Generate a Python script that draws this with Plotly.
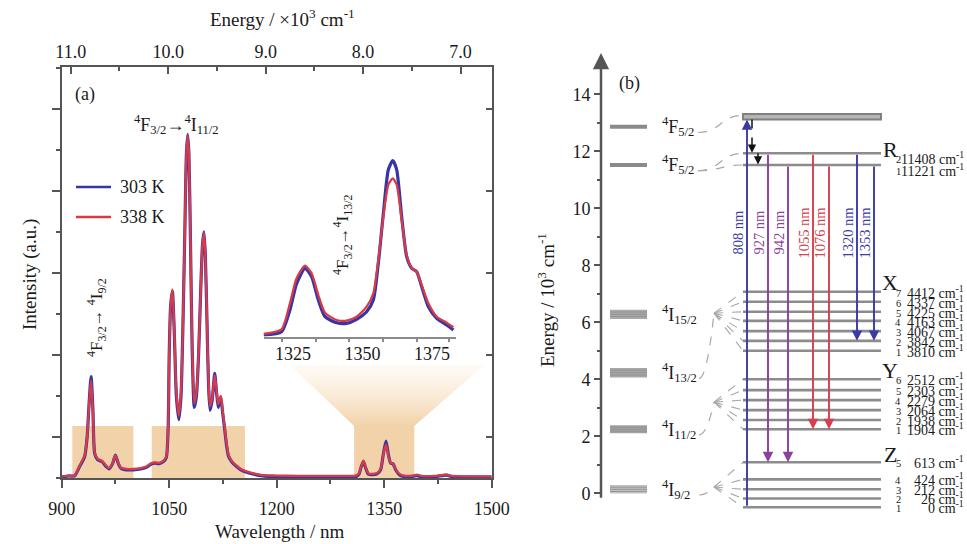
import plotly.graph_objects as go

W, H = 967, 544
FONT = "Liberation Serif"
TXT = "#1a1a1a"
AX = "#555555"

# ---------------- panel (a): emission spectrum ----------------
wavelength_nm = [900, 910, 918, 925, 932, 935.5, 938.5, 941, 943.5, 946,
                 950, 956, 962, 966, 971, 975, 979, 983, 990, 1000,
                 1010, 1018, 1025, 1030, 1036, 1042, 1046, 1048.5, 1050, 1052,
                 1054.5, 1057, 1060, 1063.5, 1066.5, 1069.5, 1072, 1074, 1075.8, 1077.5,
                 1079.5, 1082, 1085, 1088, 1091, 1094, 1096.5, 1098.5, 1100.5, 1103,
                 1105, 1107, 1110, 1113.5, 1116, 1118.5, 1122, 1124.5, 1127, 1130,
                 1133, 1138, 1144, 1150, 1158, 1168, 1180, 1200, 1230, 1260,
                 1290, 1310, 1315, 1318, 1321, 1324, 1328, 1333, 1340, 1345,
                 1348.5, 1352.5, 1356, 1359, 1362.5, 1366, 1371, 1377, 1390, 1396,
                 1402, 1420, 1437, 1445, 1470, 1500]
intensity_303K = [0.02, 0.05, 0.05, 0.28, 0.52, 1.0, 1.9, 2.47, 1.7, 0.6,
                  0.45, 0.40, 0.28, 0.22, 0.35, 0.56, 0.35, 0.23, 0.20, 0.20,
                  0.22, 0.26, 0.34, 0.36, 0.35, 0.40, 0.50, 1.2, 3.0, 4.2,
                  4.55, 3.6, 2.0, 1.42, 2.0, 4.0, 6.2, 7.9, 8.37, 7.9,
                  6.0, 3.2, 1.72, 2.0, 3.0, 4.6, 5.7, 6.0, 5.4, 3.6,
                  2.2, 1.65, 1.9, 2.55, 2.1, 1.72, 1.98, 1.6, 1.25, 0.8,
                  0.52, 0.38, 0.28, 0.20, 0.14, 0.09, 0.05, 0.03, 0.03, 0.02,
                  0.02, 0.03, 0.10, 0.28, 0.40, 0.25, 0.09, 0.08, 0.10, 0.20,
                  0.55, 0.90, 0.55, 0.36, 0.34, 0.20, 0.08, 0.04, 0.04, 0.06,
                  0.03, 0.03, 0.07, 0.03, 0.02, 0.02]
intensity_338K = [0.04, 0.05, 0.06, 0.30, 0.55, 1.0, 1.85, 2.38, 1.65, 0.62,
                  0.47, 0.42, 0.30, 0.24, 0.36, 0.55, 0.36, 0.25, 0.22, 0.22,
                  0.24, 0.28, 0.36, 0.38, 0.37, 0.42, 0.52, 1.2, 3.0, 4.2,
                  4.6, 3.65, 2.1, 1.52, 2.1, 4.0, 6.2, 7.9, 8.35, 7.9,
                  6.0, 3.3, 1.82, 2.1, 3.05, 4.6, 5.7, 5.98, 5.4, 3.65,
                  2.3, 1.75, 1.95, 2.5, 2.15, 1.8, 2.0, 1.65, 1.3, 0.85,
                  0.55, 0.40, 0.30, 0.22, 0.16, 0.11, 0.07, 0.06, 0.05, 0.05,
                  0.05, 0.06, 0.12, 0.28, 0.42, 0.27, 0.11, 0.10, 0.12, 0.22,
                  0.55, 0.82, 0.52, 0.37, 0.35, 0.22, 0.10, 0.06, 0.06, 0.08,
                  0.05, 0.05, 0.08, 0.05, 0.04, 0.04]
series_names = ["303 K", "338 K"]

inset_wavelength_nm = [1314.3, 1320.9, 1323.9, 1326.3, 1329.3, 1331.7, 1334.1, 1336.5, 1340.7,
                       1344.3, 1347.9, 1351.5, 1353.9, 1355.7, 1357.5, 1359.3, 1360.9, 1362.3,
                       1364.1, 1365.9, 1367.7, 1369.5, 1371.3, 1373.7, 1376.7, 1380.3, 1382.7]
inset_303K = [0.17, 0.5, 2.67, 5.3, 6.84, 6.0, 3.67, 2.0, 1.4,
              1.34, 1.74, 2.5, 3.67, 7.34, 12.3, 16.7, 17.6, 16.7,
              12.0, 8.0, 6.84, 6.5, 5.0, 3.0, 1.84, 1.17, 0.67]
inset_338K = [0.27, 0.74, 3.34, 5.84, 7.1, 6.34, 4.17, 2.4, 1.67,
              1.6, 2.0, 3.0, 4.34, 7.67, 12.0, 15.2, 15.84, 15.2,
              11.67, 8.17, 6.9, 6.5, 5.17, 3.34, 2.0, 1.4, 0.94]

bottom_ticks = [900, 1050, 1200, 1350, 1500]
top_ticks = [11.0, 10.0, 9.0, 8.0, 7.0]
inset_ticks = [1325, 1350, 1375]
inset_minor_ticks = [1321.0, 1333.3, 1345.2, 1357.4, 1369.6, 1381.1]

band_starts_nm = [914.8, 1025.6, 1308]
band_ends_nm = [1000, 1155.7, 1392]
band_height = 1.27
funnel_top_nm = [1218, 1490]
funnel_top_height = 2.76

# ---------------- panel (b): energy levels (10^3 cm^-1 axis positions) ----------------
term_labels = ["<sup>4</sup>F<sub>5/2</sub>", "<sup>4</sup>F<sub>5/2</sub>",
               "<sup>4</sup>I<sub>15/2</sub>", "<sup>4</sup>I<sub>13/2</sub>",
               "<sup>4</sup>I<sub>11/2</sub>", "<sup>4</sup>I<sub>9/2</sub>"]
term_E = [12.86, 11.52, 6.28, 4.23, 2.25, 0.14]
pump_band_E = [13.12, 13.31]
R_E = [11.52, 11.93]
R_cm = [11221, 11408]
X_E = [5.00, 5.35, 5.69, 6.05, 6.37, 6.72, 7.07]
X_cm = [3810, 3842, 4067, 4163, 4225, 4337, 4412]
Y_E = [2.25, 2.57, 2.92, 3.27, 3.62, 4.00]
Y_cm = [1904, 1938, 2064, 2279, 2303, 2512]
Z_E = [-0.49, -0.18, 0.14, 0.49, 1.09]
Z_cm = [0, 26, 212, 424, 613]
energy_ticks = [0, 2, 4, 6, 8, 10, 12, 14]

trans_nm = [808, 927, 942, 1055, 1076, 1320, 1353]
trans_from = ["Z1", "R2", "R1", "R2", "R1", "R2", "R1"]
trans_to = ["P", "Z5", "Z5", "Y1", "Y1", "X2", "X2"]

# ---------------- layout / style (pixels) ----------------
trans_x = [747, 768, 788, 813, 829, 857, 874]
trans_colors = ["#3a3aa6", "#8b3f9e", "#8b3f9e", "#d6404c", "#d6404c", "#3a3aa6", "#3a3aa6"]
bar_half = [0, 0, 0.16, 0.17, 0.14, 0.15]
bar_fill = ["#8a8a8a", "#8a8a8a", "#aaaaaa", "#a6a6a6", "#a2a2a2", "#c2c2c2"]
LV0, LV1 = 743, 881
BAR0, BAR1 = 610, 647
AXB = 601


def px(x):
    return x / W


def py(y):
    return 1 - y / H


fig = go.Figure()

# funnel (zoom indicator) with vertical gradient
fig.add_trace(go.Scatter(
    x=[band_starts_nm[2], band_ends_nm[2], funnel_top_nm[1], funnel_top_nm[0], band_starts_nm[2]],
    y=[band_height, band_height, funnel_top_height, funnel_top_height, band_height],
    fill="toself", mode="none", hoverinfo="skip", showlegend=False,
    fillgradient=dict(type="vertical",
                      colorscale=[[0, "rgba(242,210,169,1)"], [1, "rgba(250,232,208,0.2)"]]),
    xaxis="x", yaxis="y"))

# invisible helpers so the mirrored top / right axes are drawn
fig.add_trace(go.Scatter(x=[9.0], y=[0], mode="markers", marker=dict(opacity=0), hoverinfo="skip",
                         showlegend=False, xaxis="x2", yaxis="y"))
fig.add_trace(go.Scatter(x=[1200], y=[0], mode="markers", marker=dict(opacity=0), hoverinfo="skip",
                         showlegend=False, xaxis="x", yaxis="y2"))

colors = ["#3535a8", "#d83a48"]
widths = [3.2, 2.3]
for vals, c, w, n in zip([intensity_303K, intensity_338K], colors, widths, series_names):
    fig.add_trace(go.Scatter(x=wavelength_nm, y=vals, mode="lines", name=n,
                             line=dict(color=c, width=w, shape="spline", smoothing=0.6),
                             xaxis="x", yaxis="y", showlegend=False))
for vals, c, w, n in zip([inset_303K, inset_338K], colors, widths, series_names):
    fig.add_trace(go.Scatter(x=inset_wavelength_nm, y=vals, mode="lines", name=n,
                             line=dict(color=c, width=w, shape="spline", smoothing=0.6),
                             xaxis="x3", yaxis="y3", showlegend=False))

shapes = []
annos = []

for s, e in zip(band_starts_nm, band_ends_nm):
    shapes.append(dict(type="rect", xref="x", yref="y", x0=s, x1=e, y0=0, y1=band_height,
                       fillcolor="#f2d2a9", line=dict(width=0), layer="below"))

# legend
for i, (n, c) in enumerate(zip(series_names, colors)):
    yy = 187 + 30 * i
    shapes.append(dict(type="line", xref="paper", yref="paper", x0=px(76), x1=px(111),
                       y0=py(yy), y1=py(yy), line=dict(color=c, width=2.6)))
    annos.append(dict(xref="paper", yref="paper", x=px(118), y=py(yy), text=n, showarrow=False,
                      xanchor="left", yanchor="middle", font=dict(family=FONT, size=18, color=TXT)))


def A(x, y, text, size=18, angle=0, xa="center", color=TXT):
    annos.append(dict(xref="paper", yref="paper", x=px(x), y=py(y), text=text, showarrow=False,
                      xanchor=xa, yanchor="middle", textangle=angle,
                      font=dict(family=FONT, size=size, color=color)))


A(73, 95, "(a)", 18, xa="left")
A(176, 125, "<sup>4</sup>F<sub>3/2</sub>→<sup>4</sup>I<sub>11/2</sub>", 18)
A(96, 318, "<sup>4</sup>F<sub>3/2</sub>→ <sup>4</sup>I<sub>9/2</sub>", 17, angle=-90)
A(342, 235, "<sup>4</sup>F<sub>3/2</sub>→<sup>4</sup>I<sub>13/2</sub>", 17, angle=-90)
A(30, 275, "Intensity (a.u.)", 19, angle=-90)
A(280, 531, "Wavelength / nm", 19)
A(282, 18, "Energy / ×10<sup>3</sup> cm<sup>-1</sup>", 19)
A(546, 300, "Energy / 10<sup>3</sup> cm<sup>-1</sup>", 19, angle=-90)
A(617, 83, "(b)", 18, xa="left")


# ---------------- panel (b) drawing ----------------
def L(x0, y0, x1, y1, color, width, dash=None):
    d = dict(type="line", xref="x4", yref="y4", x0=x0, x1=x1, y0=y0, y1=y1,
             line=dict(color=color, width=width))
    if dash:
        d["line"]["dash"] = dash
    shapes.append(d)


# energy axis with arrow
L(AXB, -0.16, AXB, 15.0, AX, 2.5)
annos.append(dict(xref="x4", yref="y4", axref="x4", ayref="y4", x=AXB, y=15.45, ax=AXB, ay=14.9,
                  text="", showarrow=True, arrowhead=2, arrowsize=1.3, arrowwidth=2.5,
                  arrowcolor=AX, standoff=0, startstandoff=0))

# left term bars + labels
for lab, e, hh, fc in zip(term_labels, term_E, bar_half, bar_fill):
    if hh == 0:
        L(BAR0, e, BAR1, e, fc, 4)
    else:
        shapes.append(dict(type="rect", xref="x4", yref="y4", x0=BAR0, x1=BAR1, y0=e - hh, y1=e + hh,
                           fillcolor=fc, line=dict(width=0)))
        for k in (-0.5, 0, 0.5):
            L(BAR0, e + k * hh, BAR1, e + k * hh, "#939393", 1)
    annos.append(dict(xref="x4", yref="y4", x=660, y=e, text=lab, showarrow=False, xanchor="left",
                      yanchor="middle", font=dict(family=FONT, size=18, color=TXT)))

# pump band
shapes.append(dict(type="rect", xref="x4", yref="y4", x0=LV0, x1=LV1, y0=pump_band_E[0], y1=pump_band_E[1],
                   fillcolor="#b4b4b4", line=dict(color="#808080", width=2)))

lev = {"P": pump_band_E[0]}
for nm_, arr in (("R", R_E), ("X", X_E), ("Y", Y_E), ("Z", Z_E)):
    for i, e in enumerate(arr):
        lev[f"{nm_}{i + 1}"] = e
        L(LV0, e, LV1, e, "#8c8c8c", 2.6)

# dashed connectors from term labels to manifolds
GR = "#a8a8a8"


def path(x0, y0, x1, y1):
    xm = (x0 + x1) / 2
    shapes.append(dict(type="path", xref="x4", yref="y4",
                       path=f"M {x0},{y0} C {xm},{y0} {xm},{y1} {x1},{y1}",
                       line=dict(color=GR, width=1.2, dash="dash")))


path(698, term_E[0] - 0.2, LV0, pump_band_E[1] - 0.05)
path(698, term_E[1] - 0.2, LV0, R_E[1])
path(698, term_E[1] - 0.2, LV0, R_E[0])
fans = [(714, 6.32, X_E, term_E[3]), (714, 3.2, Y_E, term_E[4]), (714, 0.22, Z_E, term_E[5])]
for fx, fy, arr, te in fans:
    shapes.append(dict(type="path", xref="x4", yref="y4",
                       path=f"M 699,{te - 0.2} Q 707,{te - 0.2} {fx},{fy}",
                       line=dict(color=GR, width=1.2, dash="dash")))
    for e in arr:
        L(fx, fy, LV0, e, GR, 1.1, "dash")

# transitions
for nmv, f, t, x, c in zip(trans_nm, trans_from, trans_to, trans_x, trans_colors):
    y0, y1 = lev[f], lev[t]
    annos.append(dict(xref="x4", yref="y4", axref="x4", ayref="y4", x=x, y=y1, ax=x, ay=y0,
                      text="", showarrow=True, arrowhead=2, arrowsize=1.1, arrowwidth=1.9,
                      arrowcolor=c, standoff=0, startstandoff=0))
    annos.append(dict(xref="x4", yref="y4", x=x - 9, y=9.15, text=f"{nmv} nm", showarrow=False,
                      textangle=-90, xanchor="center", yanchor="middle",
                      font=dict(family=FONT, size=14.5, color=c)))

# dashed relaxation arrows
for x, a, b in ((752, pump_band_E[0], R_E[1]), (758, R_E[1], R_E[0])):
    L(x, a, x, b + 0.2, "#111111", 1.5, "dash")
    annos.append(dict(xref="x4", yref="y4", axref="x4", ayref="y4", x=x, y=b + 0.02, ax=x, ay=b + 0.25,
                      text="", showarrow=True, arrowhead=2, arrowsize=1.1, arrowwidth=1.5,
                      arrowcolor="#111111", standoff=0, startstandoff=0))


# manifold labels
def B(x, y, text, size, xa="center"):
    annos.append(dict(xref="x4", yref="y4", x=x, y=y, text=text, showarrow=False, xanchor=xa,
                      yanchor="middle", font=dict(family=FONT, size=size, color=TXT)))


for letter, ly, arr, cms, off in (("R", 12.05, R_E, R_cm, -0.18), ("X", 7.40, X_E, X_cm, 0),
                                  ("Y", 4.30, Y_E, Y_cm, 0), ("Z", 1.36, Z_E, Z_cm, 0)):
    B(890, ly, letter, 22)
    for i, (e, v) in enumerate(zip(arr, cms)):
        B(898, e + off - 0.05, str(i + 1), 10.5)
        B(966, e + off, f"{v} cm<sup>-1</sup>", 14, xa="right")

tickfont = dict(family=FONT, size=18, color=TXT)
fig.update_layout(
    width=W, height=H, margin=dict(l=0, r=0, t=0, b=0, autoexpand=False),
    paper_bgcolor="white", plot_bgcolor="rgba(0,0,0,0)", showlegend=False,
    shapes=shapes, annotations=annos,
    xaxis=dict(domain=[px(61.7), px(491.7)], range=[900, 1500], anchor="y", automargin=False,
               tickmode="array", tickvals=bottom_ticks, ticks="outside", ticklen=8, tickwidth=2,
               tickcolor=AX, showline=True, linecolor=AX, linewidth=2, tickfont=tickfont,
               ticklabelstandoff=5,
               minor=dict(tickmode="linear", tick0=900, dtick=75, ticks="outside", ticklen=4,
                          tickwidth=2, tickcolor=AX),
               showgrid=False, zeroline=False),
    xaxis2=dict(overlaying="x", side="top", anchor="y", range=[11.093, 6.68], automargin=False,
                tickmode="array", tickvals=top_ticks, ticktext=[f"{v:.1f}" for v in top_ticks],
                ticks="inside", ticklen=7, tickwidth=2, tickcolor=AX, showline=True, linecolor=AX,
                linewidth=2, tickfont=tickfont,
                minor=dict(tickmode="array", tickvals=[10.5, 9.5, 8.5, 7.5], ticks="inside", ticklen=4,
                           tickwidth=2, tickcolor=AX),
                showgrid=False, zeroline=False),
    yaxis=dict(domain=[py(478), py(67)], range=[0, 10.02], anchor="x", showticklabels=False,
               automargin=False,
               tickmode="linear", tick0=1, dtick=2, ticks="outside", ticklen=8, tickwidth=2,
               tickcolor=AX, showline=True, linecolor=AX, linewidth=2,
               minor=dict(tickmode="linear", tick0=0, dtick=2, ticks="outside", ticklen=4,
                          tickwidth=2, tickcolor=AX),
               showgrid=False, zeroline=False),
    yaxis2=dict(overlaying="y", side="right", anchor="x", range=[0, 10.02], showticklabels=False,
                automargin=False,
                tickmode="linear", tick0=1, dtick=2, ticks="inside", ticklen=6, tickwidth=2,
                tickcolor=AX, showline=True, linecolor=AX, linewidth=2, showgrid=False, zeroline=False),
    xaxis3=dict(domain=[px(263.8), px(455.6)], range=[1314.5, 1383.5], anchor="y3", automargin=False,
                tickmode="array", tickvals=inset_ticks, ticks="", showline=True, linecolor="#8a8a8a",
                linewidth=1.5, tickfont=tickfont,
                minor=dict(tickmode="array", tickvals=inset_minor_ticks, ticks="outside", ticklen=4,
                           tickwidth=1.5, tickcolor="#8a8a8a"),
                showgrid=False, zeroline=False),
    yaxis3=dict(domain=[py(336.7), py(150)], range=[0, 18.67], anchor="x3", visible=False,
                automargin=False),
    xaxis4=dict(domain=[px(560), 1.0], range=[560, 967], anchor="y4", visible=False, automargin=False),
    yaxis4=dict(domain=[py(520), py(40)], range=[(493.3 - 520) / 28.5, (493.3 - 40) / 28.5],
                anchor="free", position=px(AXB), tickmode="array", tickvals=energy_ticks,
                automargin=False,
                ticks="outside", ticklen=7, tickwidth=2, tickcolor=AX, showline=False,
                tickfont=tickfont,
                minor=dict(tickmode="array", tickvals=[1, 3, 5, 7, 9, 11, 13], ticks="outside",
                           ticklen=4, tickwidth=2, tickcolor=AX),
                showgrid=False, zeroline=False),
)

fig.write_html("out.html", config={"displayModeBar": False},
               post_script="document.body.style.margin='0px';document.body.style.overflow='hidden';")
